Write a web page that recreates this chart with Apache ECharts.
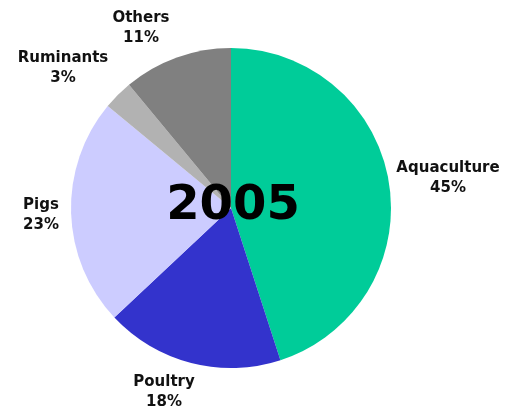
<!DOCTYPE html>
<html>
<head>
<meta charset="utf-8">
<script src="https://cdn.jsdelivr.net/npm/echarts@6/dist/echarts.min.js"></script>
<style>
  html, body { margin: 0; padding: 0; background: #ffffff; }
  #chart { width: 508px; height: 410px; }
</style>
</head>
<body>
<div id="chart"></div>
<script>
// Feed use shares by sector, 2005
const categories = ['Aquaculture', 'Poultry', 'Pigs', 'Ruminants', 'Others'];
const shares = [45, 18, 23, 3, 11];
const colors = ['#00CC99', '#3333CC', '#CCCCFF', '#B2B2B2', '#808080'];
const yearLabel = '2005';

// Label anchor points (pixel centres) for each category's caption
const labelAnchors = [
  [448, 178],
  [164, 392],
  [41, 215],
  [63, 68],
  [141, 28]
];

const chart = echarts.init(document.getElementById('chart'), null, { renderer: 'canvas' });

chart.setOption({
  animation: false,
  backgroundColor: '#ffffff',
  series: [{
    type: 'pie',
    center: [231, 208],
    radius: [0, 160],
    startAngle: 90,
    clockwise: true,
    silent: true,
    data: categories.map((name, i) => ({
      name: name,
      value: shares[i],
      itemStyle: { color: colors[i] }
    })),
    label: {
      show: true,
      position: 'outside',
      formatter: p => p.name + '\n' + p.value + '%',
      fontFamily: 'DejaVu Sans',
      fontWeight: 'bold',
      fontSize: 15,
      lineHeight: 20,
      color: '#111111',
      align: 'center',
      overflow: 'none',
      width: 200
    },
    labelLine: { show: false },
    labelLayout: params => ({
      x: labelAnchors[params.dataIndex][0],
      y: labelAnchors[params.dataIndex][1],
      align: 'center',
      verticalAlign: 'middle',
      hideOverlap: false,
      moveOverlap: null
    })
  }],
  graphic: [{
    type: 'text',
    x: 233,
    y: 207,
    style: {
      text: yearLabel,
      fontFamily: 'DejaVu Sans',
      fontWeight: 'bold',
      fontSize: 48,
      fill: '#000000',
      align: 'center',
      verticalAlign: 'middle'
    },
    z: 100
  }]
});
</script>
</body>
</html>
